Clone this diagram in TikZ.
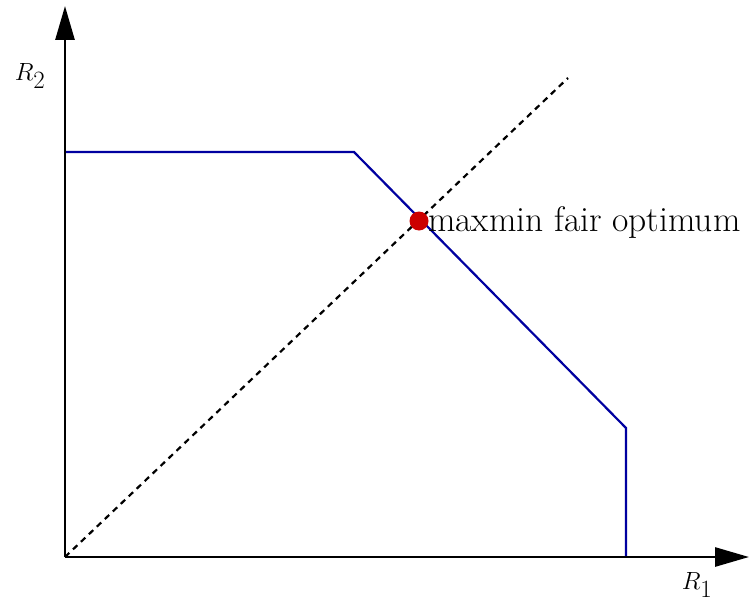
\documentclass[tikz,border=0pt]{standalone}
\usetikzlibrary{arrows.meta}
\definecolor{regionblue}{RGB}{0,0,160}
\definecolor{dotred}{RGB}{204,0,0}
\begin{document}
\begin{tikzpicture}[x=1pt,y=-1pt,
  axis/.style={line width=2.8pt,-{Triangle[length=34pt,width=19pt]}},
  region/.style={draw=regionblue,line width=2.2pt},
  diag/.style={dashed,line width=2.2pt,dash pattern=on 6pt off 5pt},
  lbl/.style={font=\fontsize{35.5}{42}\selectfont,inner sep=0pt},
  optdot/.style={circle,fill=dotred,minimum size=19pt,inner sep=0pt}]
\useasboundingbox (0,0) rectangle (749,602);
\coordinate (O) at (65,557);
\coordinate (ytip) at (65,6);
\coordinate (xtip) at (749,557);
\coordinate (A) at (65,152);
\coordinate (B) at (354,152);
\coordinate (C) at (626,428);
\coordinate (D) at (626,557);
\coordinate (E) at (568,78);
\draw[region] (A) -- (B) -- (C) -- (D);
\draw[diag] (O) -- (E);
\draw[axis] (O) -- (ytip);
\draw[axis] (O) -- (xtip);
\node[optdot] (opt) at (419,221) {};
\node[lbl,anchor=west] (optl) at (428,222) {maxmin fair optimum};
\node[lbl] (r2) at (30,76) {$R_2$};
\node[lbl] (r1) at (697,585) {$R_1$};
\end{tikzpicture}
\end{document}
